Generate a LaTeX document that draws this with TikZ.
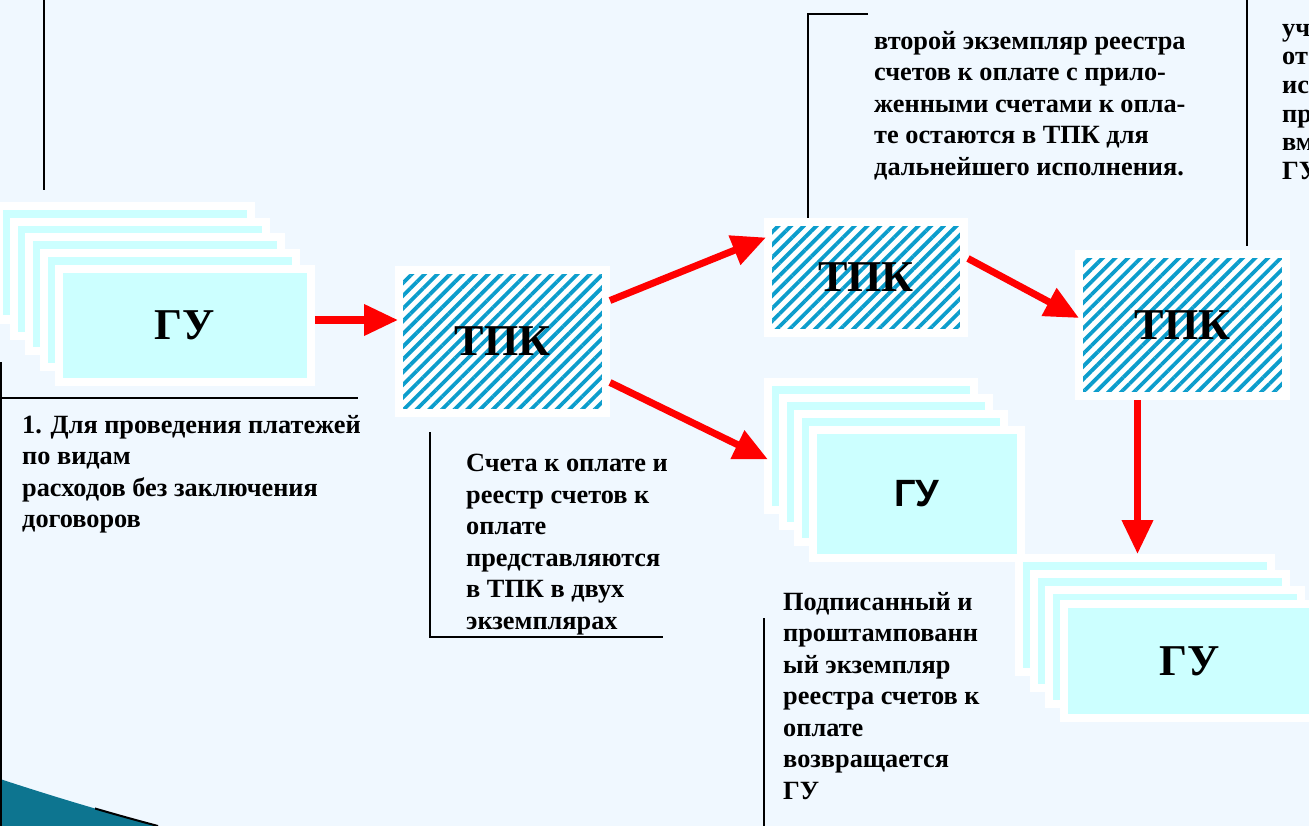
\documentclass[tikz,border=0pt]{standalone}
\usepackage{fontspec}
\setmainfont{Liberation Serif}
\newfontfamily\arialf{Liberation Sans}
\usetikzlibrary{arrows.meta,patterns.meta,calc}
\definecolor{bgc}{HTML}{F0F8FF}
\definecolor{cardc}{HTML}{CCFFFF}
\definecolor{hatchc}{HTML}{0C9DCC}
\definecolor{redc}{HTML}{FF0000}
\definecolor{tealA}{HTML}{0D7590}
\tikzset{
  card/.style n args={2}{fill=cardc, draw=white, line width=8pt, inner sep=0pt,
    minimum width=#1, minimum height=#2},
  hatchbox/.style n args={2}{preaction={fill=white}, pattern={Lines[angle=45,distance=9pt,line width=3.8pt]},
    pattern color=hatchc, draw=white, line width=8pt, inner sep=0pt,
    minimum width=#1, minimum height=#2, font=\bfseries\fontsize{44}{48}\selectfont},
  serifbig/.style={font=\bfseries\fontsize{44}{48}\selectfont},
  sansbig/.style={font=\arialf\bfseries\fontsize{38}{42}\selectfont},
  txt/.style={font=\bfseries\fontsize{26.3}{31.5}\selectfont, align=left, inner sep=0pt},
  callout/.style={draw=black, line width=2.4pt},
  flow/.style={draw=redc, line width=7pt, -{Triangle[length=34pt,width=30pt]}},
}
\begin{document}
\begin{tikzpicture}[x=1pt,y=-1pt]
\useasboundingbox (0,0) rectangle (1309,826);
\fill[bgc] (0,0) rectangle (1309,826);

% bottom-left decoration
\fill[tealA] (0,779) .. controls (55,797) and (105,812) .. (158,826) -- (0,826) -- cycle;
\begin{scope}
  \clip (95,790) rectangle (170,830);
  \draw[black, line width=2pt] (0,779) .. controls (55,797) and (105,812) .. (158,826);
\end{scope}

% left stack of cards
\node[card={252pt}{113pt}] (gua4) at (125,263) {};
\node[card={252pt}{113pt}] (gua3) at (140,279) {};
\node[card={252pt}{113pt}] (gua2) at (155,294) {};
\node[card={252pt}{113pt}] (gua1) at (170,310) {};
\node[card={252pt}{113pt}, serifbig] (gu1) at (185,325.5) {ГУ};

% TPK boxes
\node[hatchbox={207pt}{143pt}] (tpk1) at (502.5,341.5) {ТПК};
\node[hatchbox={196pt}{111pt}] (tpk2) at (866,277.5) {ТПК};
\node[hatchbox={207pt}{142pt}] (tpk3) at (1182.5,325) {ТПК};

% middle stack
\node[card={206pt}{128pt}] (gub3) at (871,445.5) {};
\node[card={206pt}{128pt}] (gub2) at (886,462) {};
\node[card={206pt}{128pt}] (gub1) at (901,477.5) {};
\node[card={208pt}{128pt}, sansbig] (gu2) at (917,494) {ГУ};

% bottom-right stack
\node[card={252pt}{114pt}] (guc3) at (1145,615) {};
\node[card={252pt}{114pt}] (guc2) at (1160,631) {};
\node[card={252pt}{114pt}] (guc1) at (1175,647) {};
\node[card={252pt}{114pt}, serifbig] (gu3) at (1190,661) {ГУ};

% arrows
\draw[flow] ([yshift=5.5pt]gu1.east) -- ([yshift=5.5pt,xshift=3pt]gu1.east -| tpk1.west);
\draw[flow] ([yshift=41pt]tpk1.east) -- ([yshift=40pt,xshift=2pt]tpk2.west);
\draw[flow] ([yshift=-41pt]tpk1.east) -- ([yshift=-14pt,xshift=4pt]gub3.west);
\draw[flow] ([yshift=19pt]tpk2.east) -- ([yshift=7pt,xshift=4pt]tpk3.west);
\draw[flow] ([xshift=-45pt]tpk3.south) -- ([xshift=-45pt]tpk3.south |- guc3.north);

% callout lines
\coordinate (c1a) at (44,0);
\coordinate (c1b) at (44,190);
\draw[callout] (c1a) -- (c1b);
\coordinate (c2a) at (1,362);
\coordinate (c2b) at (1,826);
\coordinate (c2c) at (0,398);
\coordinate (c2d) at (358,398);
\draw[callout] (c2a) -- (c2b);
\draw[callout] (c2c) -- (c2d);
\coordinate (c3a) at (430,432);
\coordinate (c3b) at (430,637);
\coordinate (c3c) at (663,637);
\draw[callout] (c3a) -- (c3b) -- (c3c);
\coordinate (c4a) at (868,14);
\coordinate (c4b) at (808,14);
\draw[callout] (c4a) -- (c4b) -- (c4b |- tpk2.north);
\coordinate (c5a) at (1247,0);
\coordinate (c5b) at (1247,246);
\draw[callout] (c5a) -- (c5b);
\coordinate (c6a) at (764,618);
\coordinate (c6b) at (764,826);
\draw[callout] (c6a) -- (c6b);

% texts
\node[txt, anchor=north west] (t1) at (22,415) {1. Для проведения платежей\\по видам\\расходов без заключения\\договоров};
\node[txt, anchor=north west] (t2) at (466,454) {Счета к оплате и\\реестр счетов к\\оплате\\представляются\\в ТПК в двух\\экземплярах};
\node[txt, anchor=north west] (t3) at (874,31) {второй экземпляр реестра\\счетов к оплате с прило-\\женными счетами к опла-\\те остаются в ТПК для\\дальнейшего исполнения.};
\node[txt, anchor=north west] (t4) at (783,592) {Подписанный и\\проштампованн\\ый экземпляр\\реестра счетов к\\оплате\\возвращается\\ГУ};
\node[font=\bfseries\fontsize{26.3}{28.6}\selectfont, align=left, inner sep=0pt, anchor=north west] (t5) at (1282,24) {уч\\от\\ис\\пр\\вм\\ГУ};
\end{tikzpicture}
\end{document}
